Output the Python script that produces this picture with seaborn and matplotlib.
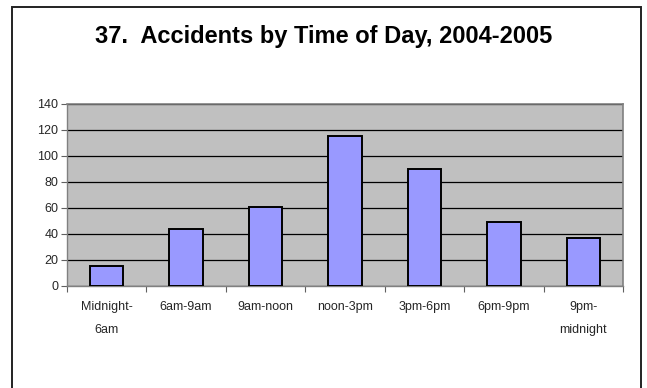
import matplotlib
matplotlib.use("Agg")
import matplotlib.pyplot as plt
from matplotlib.patches import Rectangle
from matplotlib.ticker import FixedLocator
import seaborn as sns
import pandas as pd

categories = ["Midnight-\n6am", "6am-9am", "9am-noon", "noon-3pm",
              "3pm-6pm", "6pm-9pm", "9pm-\nmidnight"]
accidents = [15, 44, 61, 115, 90, 49, 37]
y_ticks = [0, 20, 40, 60, 80, 100, 120, 140]
title = "37.  Accidents by Time of Day, 2004-2005"

sns.set_theme(style="white")
plt.rcParams["font.family"] = ["Liberation Sans", "DejaVu Sans"]

df = pd.DataFrame({"period": categories, "count": accidents})

fig = plt.figure(figsize=(6.47, 3.88), dpi=100)
ax = fig.add_axes([0.103, 0.263, 0.860, 0.469])

sns.barplot(data=df, x="period", y="count", ax=ax, color="#9999FF",
            saturation=1, width=0.42, edgecolor="black", linewidth=1.4,
            zorder=3)

ax.set_facecolor("#C0C0C0")
ax.set_xlim(-0.5, len(categories) - 0.5)
ax.set_ylim(0, 140)
ax.set_yticks(y_ticks)
ax.yaxis.grid(True, color="black", linewidth=0.9, zorder=1)
ax.set_axisbelow(True)

for side in ["top", "right"]:
    ax.spines[side].set_color("#808080")
    ax.spines[side].set_linewidth(1.2)
for side in ["left", "bottom"]:
    ax.spines[side].set_color("#808080")
    ax.spines[side].set_linewidth(1.0)

ax.set_xlabel("")
ax.set_ylabel("")
ax.tick_params(axis="y", which="major", length=4, width=0.8, color="#606060",
               direction="out", labelsize=9, pad=2, left=True)
ax.tick_params(axis="x", which="major", length=0, labelsize=9, pad=11)
ax.xaxis.set_minor_locator(FixedLocator([i - 0.5 for i in range(len(categories) + 1)]))
ax.tick_params(axis="x", which="minor", length=4, width=0.8, color="#606060",
               direction="out", bottom=True)
for lbl in ax.get_xticklabels():
    lbl.set_linespacing(2.2)
    lbl.set_verticalalignment("top")

fig.text(0.5, 0.905, title, ha="center", va="center", fontsize=17,
         fontweight="bold", color="black")

frame = Rectangle((12 / 647, -0.05), (641 - 12) / 647, 1.05 - 7 / 388,
                  transform=fig.transFigure, fill=False, edgecolor="#222222",
                  linewidth=1.4, clip_on=False)
fig.patches.append(frame)

fig.savefig("out.png", dpi=100)
